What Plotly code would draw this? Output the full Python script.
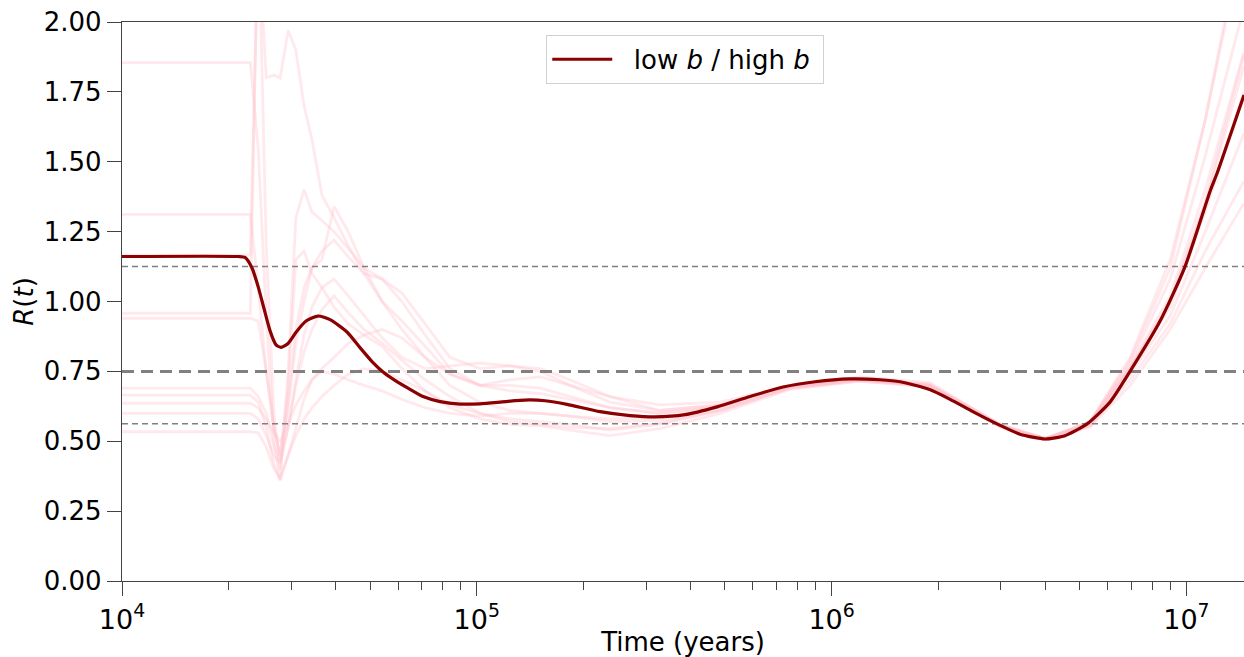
import math
import plotly.graph_objects as go

# ---------------- data ----------------
# main curve (low b / high b)
main_t = [1e4, 21230, 22220, 23250, 24170, 25130, 26140, 27170, 28060, 29370,
          30940, 33010, 35670, 38580, 43070, 46860, 50660, 54410, 58810, 64000,
          70540, 78770, 89680, 102100, 116300, 128200, 141300, 155700, 179600,
          222400, 270300, 317900, 386300, 475300, 588800, 729500, 897900,
          1.127e6, 1.369e6, 1.56e6, 1.89e6, 2.157e6, 2.5e6, 2.926e6, 3.396e6, 3.995e6,
          4.548e6, 5.248e6, 6.09e6, 6.935e6, 8.43e6, 9.91e6, 1.17e7, 1.22e7, 1.453e7]
main_r = [1.161, 1.161, 1.158, 1.12, 1.055, 0.975, 0.895, 0.845, 0.836, 0.85,
          0.89, 0.93, 0.948, 0.935, 0.891, 0.835, 0.785, 0.748, 0.718, 0.69,
          0.66, 0.642, 0.633, 0.634, 0.64, 0.645, 0.648, 0.645, 0.632,
          0.606, 0.592, 0.587, 0.595, 0.623, 0.66, 0.694, 0.713,
          0.723, 0.72, 0.713, 0.685, 0.65, 0.606, 0.562, 0.525, 0.508,
          0.52, 0.562, 0.64, 0.75, 0.93, 1.125, 1.40, 1.459, 1.739]

# shared time grid for the faint replicate curves
rep_t = [1e4, 2.3e4, 2.42e4, 2.55e4, 2.68e4, 2.79e4, 2.94e4, 3.09e4, 3.26e4,
         3.43e4, 3.66e4, 3.96e4, 4.34e4, 4.81e4, 5.41e4, 6.15e4, 7.15e4, 8.4e4,
         1.02e5, 1.24e5, 1.51e5, 1.83e5, 2.37e5, 3.28e5, 4.85e5, 7.63e5, 1.2e6,
         1.89e6, 2.98e6, 4.0e6, 5.35e6, 6.94e6, 9.0e6, 1.13e7, 1.45e7]

rep_1 = [1.855, 1.855, 1.55, 0.95, 0.5, 0.36, 0.75, 1.30, 1.40, 1.32, 1.29, 1.25,
         1.19, 1.12, 1.08, 1.0, 0.88, 0.76, 0.70, 0.70, 0.69, 0.66, 0.62, 0.60,
         0.625, 0.70, 0.725, 0.70, 0.55, 0.51, 0.57, 0.77, 1.02, 1.40, 1.89]
rep_2 = [1.312, 1.312, 1.05, 0.75, 0.55, 0.45, 0.62, 0.85, 1.0, 1.12, 1.18, 1.22,
         1.16, 1.10, 1.0, 0.90, 0.80, 0.74, 0.70, 0.68, 0.67, 0.65, 0.62, 0.60,
         0.62, 0.695, 0.72, 0.70, 0.555, 0.505, 0.56, 0.76, 1.0, 1.36, 1.88]
rep_3 = [1.166, 1.166, 2.3, 1.80, 1.81, 1.80, 1.97, 1.90, 1.70, 1.58, 1.38, 1.30,
         1.20, 1.10, 1.08, 1.03, 0.92, 0.80, 0.76, 0.77, 0.75, 0.70, 0.64, 0.61,
         0.63, 0.70, 0.73, 0.71, 0.56, 0.505, 0.57, 0.79, 1.12, 1.65, 2.3]
rep_4 = [0.958, 0.958, 2.4, 1.2, 0.6, 0.40, 0.65, 0.9, 1.05, 1.12, 1.15, 1.34,
         1.25, 1.12, 1.0, 0.93, 0.84, 0.74, 0.70, 0.72, 0.73, 0.70, 0.66, 0.63,
         0.64, 0.70, 0.72, 0.70, 0.56, 0.51, 0.565, 0.78, 1.08, 1.52, 2.05]
rep_5 = [0.94, 0.94, 0.93, 0.75, 0.55, 0.45, 0.70, 1.15, 1.18, 1.10, 1.05, 0.98,
         0.92, 0.88, 0.90, 0.87, 0.80, 0.70, 0.64, 0.61, 0.60, 0.59, 0.57, 0.575,
         0.61, 0.69, 0.715, 0.695, 0.555, 0.51, 0.555, 0.72, 0.92, 1.18, 1.43]
rep_6 = [0.69, 0.69, 0.66, 0.60, 0.48, 0.43, 0.55, 0.70, 0.82, 0.90, 0.97, 1.02,
         0.96, 0.90, 0.85, 0.79, 0.72, 0.66, 0.60, 0.57, 0.56, 0.55, 0.545, 0.565,
         0.61, 0.69, 0.72, 0.70, 0.56, 0.505, 0.55, 0.70, 0.90, 1.12, 1.35]
rep_7 = [0.665, 0.665, 0.64, 0.55, 0.42, 0.36, 0.45, 0.55, 0.65, 0.72, 0.76, 0.80,
         0.85, 0.88, 0.84, 0.76, 0.68, 0.62, 0.58, 0.56, 0.555, 0.54, 0.52, 0.545,
         0.60, 0.685, 0.715, 0.695, 0.555, 0.505, 0.56, 0.76, 1.0, 1.35, 1.84]
rep_8 = [0.636, 0.636, 0.62, 0.58, 0.53, 0.50, 0.56, 0.63, 0.68, 0.72, 0.75, 0.74,
         0.72, 0.70, 0.68, 0.65, 0.62, 0.60, 0.59, 0.60, 0.60, 0.59, 0.58, 0.585,
         0.62, 0.695, 0.72, 0.70, 0.555, 0.51, 0.565, 0.76, 0.98, 1.32, 1.75]
rep_9 = [0.60, 0.60, 0.58, 0.52, 0.45, 0.42, 0.55, 0.72, 0.88, 0.98, 1.05, 1.08,
         1.02, 0.95, 0.87, 0.80, 0.76, 0.77, 0.78, 0.77, 0.76, 0.72, 0.66, 0.61,
         0.63, 0.70, 0.725, 0.705, 0.56, 0.51, 0.57, 0.80, 1.15, 1.65, 2.35]
rep_10 = [0.534, 0.534, 0.53, 0.48, 0.40, 0.37, 0.45, 0.52, 0.58, 0.62, 0.66, 0.70,
          0.74, 0.76, 0.75, 0.72, 0.68, 0.63, 0.60, 0.58, 0.57, 0.56, 0.54, 0.56,
          0.61, 0.69, 0.72, 0.70, 0.555, 0.505, 0.555, 0.74, 0.95, 1.25, 1.60]
replicates = [rep_1, rep_2, rep_3, rep_4, rep_5, rep_6, rep_7, rep_8, rep_9, rep_10]

ref_levels = [1.125, 0.75, 0.5625]
ref_widths = [1.5, 3.0, 1.5]
ref_dashes = ["6px,4px", "12px,7px", "6px,4px"]

x_range_years = [1e4, 1.453e7]
major_ticks = [1e4, 1e5, 1e6, 1e7]
major_text = ["10<sup>4</sup>", "10<sup>5</sup>", "10<sup>6</sup>", "10<sup>7</sup>"]
minor_mult = [2, 3, 4, 5, 6, 7, 8, 9]
y_ticks = [0, 0.25, 0.5, 0.75, 1.0, 1.25, 1.5, 1.75, 2.0]

# ---------------- figure ----------------
fig = go.Figure()

for rep in replicates:
    fig.add_trace(go.Scatter(x=rep_t, y=rep, mode="lines",
                             line=dict(color="rgba(255,192,203,0.35)", width=2.8),
                             showlegend=False, hoverinfo="skip"))

for lvl, w, d in zip(ref_levels, ref_widths, ref_dashes):
    fig.add_trace(go.Scatter(x=x_range_years, y=[lvl, lvl], mode="lines",
                             line=dict(color="#808080", width=w, dash=d),
                             showlegend=False, hoverinfo="skip"))

fig.add_trace(go.Scatter(x=main_t, y=main_r, mode="lines",
                         line=dict(color="#8b0000", width=3.2, shape="spline", smoothing=0.6),
                         name="\u00a0\u00a0low <i>b</i> / high <i>b</i>\u00a0"))

minor_vals = [m * d for d in major_ticks for m in minor_mult]

axis_color = "#444444"
fig.update_layout(
    width=1244, height=657,
    margin=dict(l=122, r=0, t=22, b=76),
    paper_bgcolor="white", plot_bgcolor="white",
    font=dict(family="DejaVu Sans", size=26, color="black"),
    legend=dict(x=0.502, y=0.977, xanchor="center", yanchor="top",
                bordercolor="#d0d0d0", borderwidth=1, bgcolor="white",
                itemwidth=60, font=dict(size=26)),
    xaxis=dict(type="log", range=[math.log10(x_range_years[0]), math.log10(x_range_years[1])],
               showgrid=False, zeroline=False,
               showline=True, linecolor=axis_color, linewidth=1.3, mirror=True,
               ticks="outside", ticklen=14, tickwidth=1.3, tickcolor=axis_color,
               tickmode="array", tickvals=major_ticks, ticktext=major_text,
               tickfont=dict(size=27),
               minor=dict(tickmode="array", tickvals=minor_vals, ticks="outside",
                          ticklen=8, tickwidth=1.1, tickcolor=axis_color, showgrid=False),
               title=dict(text="Time (years)", font=dict(size=26), standoff=4),
               automargin=False),
    yaxis=dict(range=[0, 2], showgrid=False, zeroline=False,
               showline=True, linecolor=axis_color, linewidth=1.3,
               ticks="outside", ticklen=14, tickwidth=1.3, tickcolor=axis_color,
               tickmode="array", tickvals=y_ticks, tickformat=".2f",
               tickfont=dict(size=26),
               title=dict(text="<i>R</i>(<i>t</i>)", font=dict(size=26), standoff=2),
               automargin=False),
)

fig.write_html("out.html")
